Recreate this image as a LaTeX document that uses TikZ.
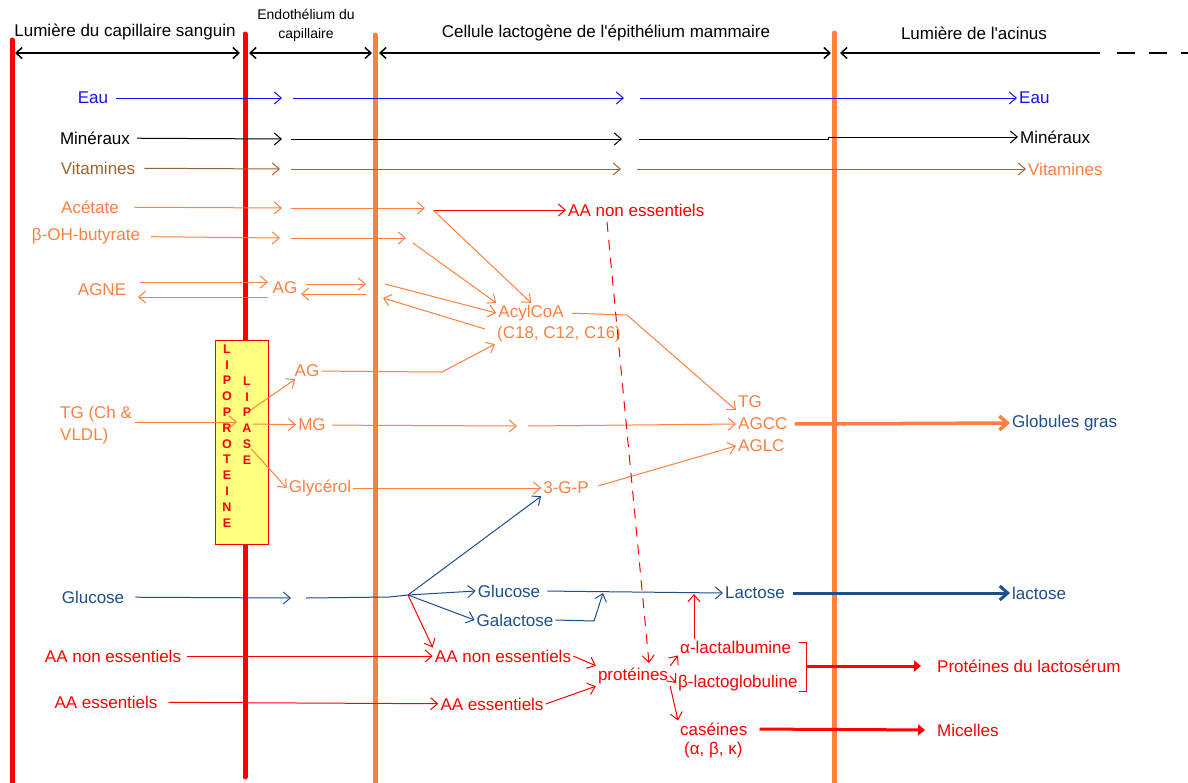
\documentclass[tikz,border=0pt]{standalone}
\usepackage{fontspec}
\setmainfont{Liberation Sans}[Ligatures=TeXOff]
\usetikzlibrary{arrows.meta}

\definecolor{orng}{RGB}{255,128,64}
\definecolor{eaubleu}{RGB}{20,20,240}
\definecolor{brun}{RGB}{153,102,51}
\definecolor{bleufonce}{RGB}{30,78,140}
\definecolor{jaune}{RGB}{255,255,128}

\newcommand\fs{\fontsize{17}{20}\selectfont}
\newcommand\fsp{\fontsize{14}{19}\selectfont}

\tikzset{
  lbl/.style={font=\fs, inner sep=2pt},
  arr/.style={-{Straight Barb[length=7pt,width=12pt]}, line width=1pt},
  gros/.style={-{Straight Barb[length=8pt,width=14pt]}, line width=3.5pt},
  grosr/.style={-{Triangle[length=7pt,width=11pt]}, line width=3pt, red},
  paroi/.style={line width=5pt, line cap=round},
  zone/.style={{Straight Barb[length=6pt,width=11pt]}-{Straight Barb[length=6pt,width=11pt]}, line width=1.5pt},
  zoneg/.style={{Straight Barb[length=6pt,width=11pt]}-, line width=1.5pt},
  lettre/.style={font=\fontsize{12.5}{12.5}\selectfont\bfseries, text=red, inner sep=0pt},
  lplbox/.style={draw=red, fill=jaune, line width=1pt, minimum width=53pt, minimum height=204pt, inner sep=0pt},
}

\begin{document}
\begin{tikzpicture}[x=1pt,y=-1pt]
    \fill[white] (0,0) rectangle (1188,782);
    \useasboundingbox (0,0) rectangle (1188,782);

    % parois
    \draw[paroi,red]  (12,40) -- (12,790);
    \draw[paroi,red]  (245,34) -- (245,777);
    \draw[paroi,orng] (375,35) -- (375,790);
    \draw[paroi,orng] (834,33) -- (834,790);

    % zones
    \node[lbl] (hsang) at (125,32) {Lumière du capillaire sanguin};
    \node[lbl, font=\fsp, align=center] (hendo) at (306,25) {Endothélium du\\capillaire};
    \node[lbl] (hcell) at (606,33) {Cellule lactogène de l'épithélium mammaire};
    \node[lbl] (hacin) at (974,33) {Lumière de l'acinus};
    \coordinate (z1) at (15,53);   \coordinate (z2) at (240,53);
    \coordinate (z3) at (249,53);  \coordinate (z4) at (372,53);
    \coordinate (z5) at (379,53);  \coordinate (z6) at (831,53);
    \coordinate (z7) at (840,53);  \coordinate (z8) at (1100,53);
    \coordinate (z9) at (1117,53); \coordinate (z10) at (1188,53);
    \draw[zone] (z1) -- (z2);
    \draw[zone] (z3) -- (z4);
    \draw[zone] (z5) -- (z6);
    \draw[zoneg] (z7) -- (z8);
    \draw[line width=1.5pt, dash pattern=on 18pt off 14pt] (z9) -- (z10);

    % eau, mineraux, vitamines
    \node[lbl, text=eaubleu] (eau) at (93,98) {Eau};
    \node[lbl, text=eaubleu, anchor=west] (eauR) at (1017,98) {Eau};
    \coordinate (e1) at (282,98); \coordinate (e2) at (293,98);
    \coordinate (e3) at (624,98); \coordinate (e4) at (640,98);
    \draw[arr,eaubleu,shorten <=6pt] (eau) -- (e1);
    \draw[arr,eaubleu] (e2) -- (e3);
    \draw[arr,eaubleu] (e4) -- (eauR);

    \node[lbl] (min) at (95,138) {Minéraux};
    \node[lbl, anchor=west] (minR) at (1018,137) {Minéraux};
    \coordinate (m1) at (282,139); \coordinate (m2) at (291,139);
    \coordinate (m3) at (622,139); \coordinate (m4) at (639,139);
    \coordinate (m5) at (828,139); \coordinate (m6) at (828,137);
    \draw[arr,shorten <=5pt] (min) -- (m1);
    \draw[arr] (m2) -- (m3);
    \draw[arr] (m4) -- (m5) -- (m6) -- (minR);

    \node[lbl, text=brun] (vit) at (98,168) {Vitamines};
    \node[lbl, text=orng, anchor=west] (vitR) at (1026,169) {Vitamines};
    \coordinate (v1) at (280,169); \coordinate (v2) at (291,169);
    \coordinate (v3) at (621,169); \coordinate (v4) at (637,169);
    \draw[arr,brun,shorten <=7pt] (vit) -- (v1);
    \draw[arr,brun] (v2) -- (v3);
    \draw[arr,brun] (v4) -- (vitR);

    % acetate, butyrate, AGNE
    \node[lbl, text=orng] (acet) at (90,207) {Acétate};
    \node[lbl, text=orng] (bohb) at (86,236) {β-OH-butyrate};
    \node[lbl, text=orng] (agne) at (102,290) {AGNE};
    \node[lbl, text=orng] (ag1) at (285,288) {AG};
    \node[lbl, text=red, anchor=west] (aanes1) at (566,210) {AA non essentiels};
    \node[lbl, text=orng] (acyl) at (531,313) {AcylCoA};
    \node[lbl, text=orng] (acylc) at (559,334) {(C18, C12, C16)};

    \coordinate (a1) at (282,208); \coordinate (a2) at (291,208);
    \coordinate (a3) at (425,208); \coordinate (aj) at (433,210);
    \draw[arr,orng,shorten <=13pt] (acet) -- (a1);
    \draw[arr,orng] (a2) -- (a3);
    \draw[arr,red] (aj) -- (aanes1);
    \draw[arr,orng] (aj) -- (acyl.north);

    \coordinate (b1) at (280,238); \coordinate (b2) at (291,238);
    \coordinate (b3) at (406,238); \coordinate (b4) at (413,243);
    \draw[arr,orng,shorten <=9pt] (bohb) -- (b1);
    \draw[arr,orng] (b2) -- (b3);
    \draw[arr,orng] (b4) -- (acyl.north west);

    \coordinate (n1) at (140,282); \coordinate (n2) at (268,282);
    \coordinate (n3) at (268,297); \coordinate (n4) at (138,297);
    \draw[arr,orng] (n1) -- (n2);
    \draw[arr,orng] (n3) -- (n4);
    \coordinate (g1) at (306,284); \coordinate (g2) at (366,284);
    \coordinate (g3) at (366,294); \coordinate (g4) at (301,294);
    \coordinate (g5) at (385,284); \coordinate (g6) at (485,329);
    \coordinate (g7) at (383,298);
    \draw[arr,orng] (g1) -- (g2);
    \draw[arr,orng] (g3) -- (g4);
    \draw[arr,orng] (g5) -- (acyl.west);
    \draw[arr,orng] (g6) -- (g7);

    % lipoproteine lipase
    \node[lplbox] (lpl) at (241.5,442) {};
    \foreach \ch [count=\i from 0] in {L,I,P,O,P,R,O,T,E,I,N,E}
        \node[lettre] (lp\i) at (227,349+15.8*\i) {\ch};
    \foreach \ch [count=\i from 0] in {L,I,P,A,S,E}
        \node[lettre] (la\i) at (247,381+15.8*\i) {\ch};

    % triglycerides
    \node[lbl, text=orng, align=left, anchor=west, font=\fontsize{17}{22}\selectfont] (tgch) at (58,425) {TG (Ch \&\\VLDL)};
    \node[lbl, text=orng] (ag2) at (307,371) {AG};
    \node[lbl, text=orng] (mg) at (312,425) {MG};
    \node[lbl, text=orng] (glyc) at (320,488) {Glycérol};
    \node[lbl, text=orng] (tgp) at (566,488) {3-G-P};
    \node[lbl, text=orng, anchor=west] (tg) at (736,402) {TG};
    \node[lbl, text=orng, anchor=west] (agcc) at (736,424) {AGCC};
    \node[lbl, text=orng, anchor=west] (aglc) at (736,446) {AGLC};
    \node[lbl, text=bleufonce, anchor=west] (glob) at (1010,423) {Globules gras};

    \coordinate (t1) at (135,422); \coordinate (t2) at (237,422);
    \coordinate (t3) at (253,424);
    \draw[arr,orng] (t1) -- (t2);
    \draw[arr,orng] (t3) -- (mg);
    \draw[arr,orng] (la2) -- (ag2);
    \draw[arr,orng] (la4) -- (glyc.west);
    \coordinate (l1) at (442,372);
    \draw[arr,orng] (ag2) -- (l1) -- (acylc.south west);
    \coordinate (k1) at (627,315);
    \draw[arr,orng,shorten <=6pt] (acyl.east) -- (k1) -- (tg.south west);
    \coordinate (ma) at (517,426); \coordinate (mb) at (528,426);
    \draw[arr,orng,shorten <=4pt] (mg) -- (ma);
    \draw[arr,orng] (mb) -- (agcc.west);
    \draw[arr,orng] (glyc.east) -- (tgp.west);
    \draw[arr,orng,shorten <=8pt] (tgp.east) -- (aglc.west);
    \draw[gros,orng,shorten <=5pt] (agcc.east) -- (glob.west);

    % glucose, lactose
    \node[lbl, text=bleufonce] (glu1) at (93,597) {Glucose};
    \node[lbl, text=bleufonce] (glu2) at (509,591) {Glucose};
    \node[lbl, text=bleufonce] (gal) at (515,620) {Galactose};
    \node[lbl, text=bleufonce, anchor=west] (lact) at (723,593) {Lactose};
    \node[lbl, text=bleufonce, anchor=west] (lact2) at (1010,593) {lactose};

    \coordinate (gl1) at (291,598); \coordinate (gl2) at (306,598);
    \coordinate (gl3) at (389,597); \coordinate (gj) at (408,595);
    \coordinate (q1) at (594,621); \coordinate (q2) at (603,593);
    \draw[arr,bleufonce,shorten <=9pt] (glu1) -- (gl1);
    \draw[bleufonce, line width=1pt] (gl2) -- (gl3) -- (gj);
    \draw[arr,bleufonce] (gj) -- (tgp.south west);
    \draw[arr,bleufonce] (gj) -- (glu2.west);
    \draw[arr,bleufonce] (gj) -- (gal.west);
    \draw[arr,bleufonce,shorten <=5pt] (glu2.east) -- (lact.west);
    \draw[arr,bleufonce] (gal.east) -- (q1) -- (q2);
    \draw[gros,bleufonce,line width=3pt,shorten <=6pt] (lact.east) -- (lact2.west);

    % acides amines, proteines
    \node[lbl, text=red] (aanes2) at (113,656) {AA non essentiels};
    \node[lbl, text=red] (aanes3) at (503,656) {AA non essentiels};
    \node[lbl, text=red] (aaes1) at (106,702) {AA essentiels};
    \node[lbl, text=red] (aaes2) at (492,704) {AA essentiels};
    \node[lbl, text=red] (prot) at (633,676) {protéines};
    \node[lbl, text=red, anchor=west] (alac) at (678,647) {α-lactalbumine};
    \node[lbl, text=red, anchor=west] (blac) at (676,683) {β-lactoglobuline};
    \node[lbl, text=red, anchor=west] (cas) at (678,729) {caséines};
    \node[lbl, text=red, anchor=west] (casg) at (682,750) {(α, β, κ)};
    \node[lbl, text=red, anchor=west] (prolac) at (935,666) {Protéines du lactosérum};
    \node[lbl, text=red, anchor=west] (mic) at (935,730) {Micelles};

    \draw[arr,red] (gj) -- (aanes3.north west);
    \draw[arr,red,shorten <=4pt] (aanes2) -- (aanes3);
    \draw[arr,red,shorten <=9pt] (aaes1) -- (aaes2);
    \draw[arr,red] (aanes3.east) -- (prot.north west);
    \draw[arr,red] (aaes2.east) -- (prot.south west);
    \coordinate (d1) at (607,222); \coordinate (d2) at (649,663);
    \draw[arr,red,dash pattern=on 10pt off 8pt] (d1) -- (d2);
    \draw[arr,red] (prot.north east) -- (alac.south west);
    \draw[arr,red] (prot.east) -- (blac.west);
    \draw[arr,red] (prot.south east) -- (cas.north west);
    \coordinate (r1) at (694,639); \coordinate (r2) at (694,594);
    \draw[arr,red] (r1) -- (r2);
    \coordinate (br1) at (799,642); \coordinate (br2) at (806,642);
    \coordinate (br3) at (806,691); \coordinate (br4) at (799,691);
    \coordinate (br5) at (806,666);
    \draw[red, line width=1pt] (br1) -- (br2) -- (br3) -- (br4);
    \draw[grosr, shorten >=14pt] (br5) -- (prolac.west);
    \draw[grosr, shorten <=10pt, shorten >=10pt] (cas.east) -- (mic.west);
\end{tikzpicture}
\end{document}
